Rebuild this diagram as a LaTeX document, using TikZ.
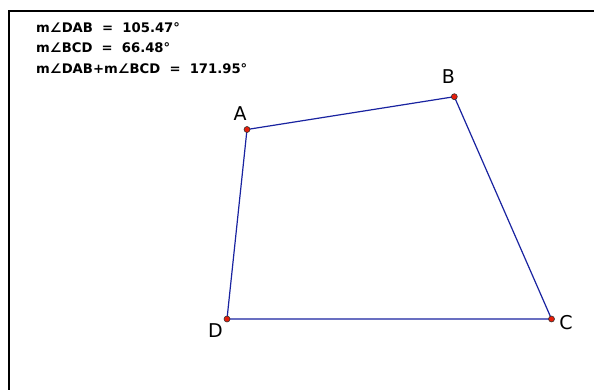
\documentclass[tikz,border=0pt]{standalone}
\usepackage{fontspec}
\setmainfont{DejaVu Sans}
\definecolor{segblue}{RGB}{25,35,160}
\definecolor{ptred}{RGB}{230,30,10}
\begin{document}
\begin{tikzpicture}[x=1pt,y=-1pt,
  pt/.style={circle,draw=black!80,fill=ptred,line width=0.6pt,inner sep=0pt,minimum size=6pt},
  seg/.style={draw=segblue,line width=1.2pt},
  lbl/.style={font=\fontsize{19}{19}\selectfont,inner sep=0pt},
  meas/.style={font=\bfseries\fontsize{13.2}{14}\selectfont,anchor=west,inner sep=0pt}]
\useasboundingbox (0,0) rectangle (594,390);
\fill[white] (0,0) rectangle (594,390);
\coordinate (tl) at (9,11);
\coordinate (tr) at (594,11);
\coordinate (bl) at (9,390);
\draw[line width=2pt] (tr) -- (tl) -- (bl);
\node[meas] (m1) at (36,28) {m∠DAB \ = \ 105.47°};
\node[meas] (m2) at (36,48) {m∠BCD \ = \ 66.48°};
\node[meas] (m3) at (36,69) {m∠DAB+m∠BCD \ = \ 171.95°};
\coordinate (A) at (247,129.5);
\coordinate (B) at (454.3,96.7);
\coordinate (C) at (551.5,319);
\coordinate (D) at (227,319);
\draw[seg] (A) -- (B) -- (C) -- (D) -- cycle;
\node[pt] (pA) at (A) {};
\node[pt] (pB) at (B) {};
\node[pt] (pC) at (C) {};
\node[pt] (pD) at (D) {};
\node[lbl] (lA) at (240,114) {A};
\node[lbl] (lB) at (448.5,77) {B};
\node[lbl] (lC) at (566,323) {C};
\node[lbl] (lD) at (215.5,331) {D};
\end{tikzpicture}
\end{document}
